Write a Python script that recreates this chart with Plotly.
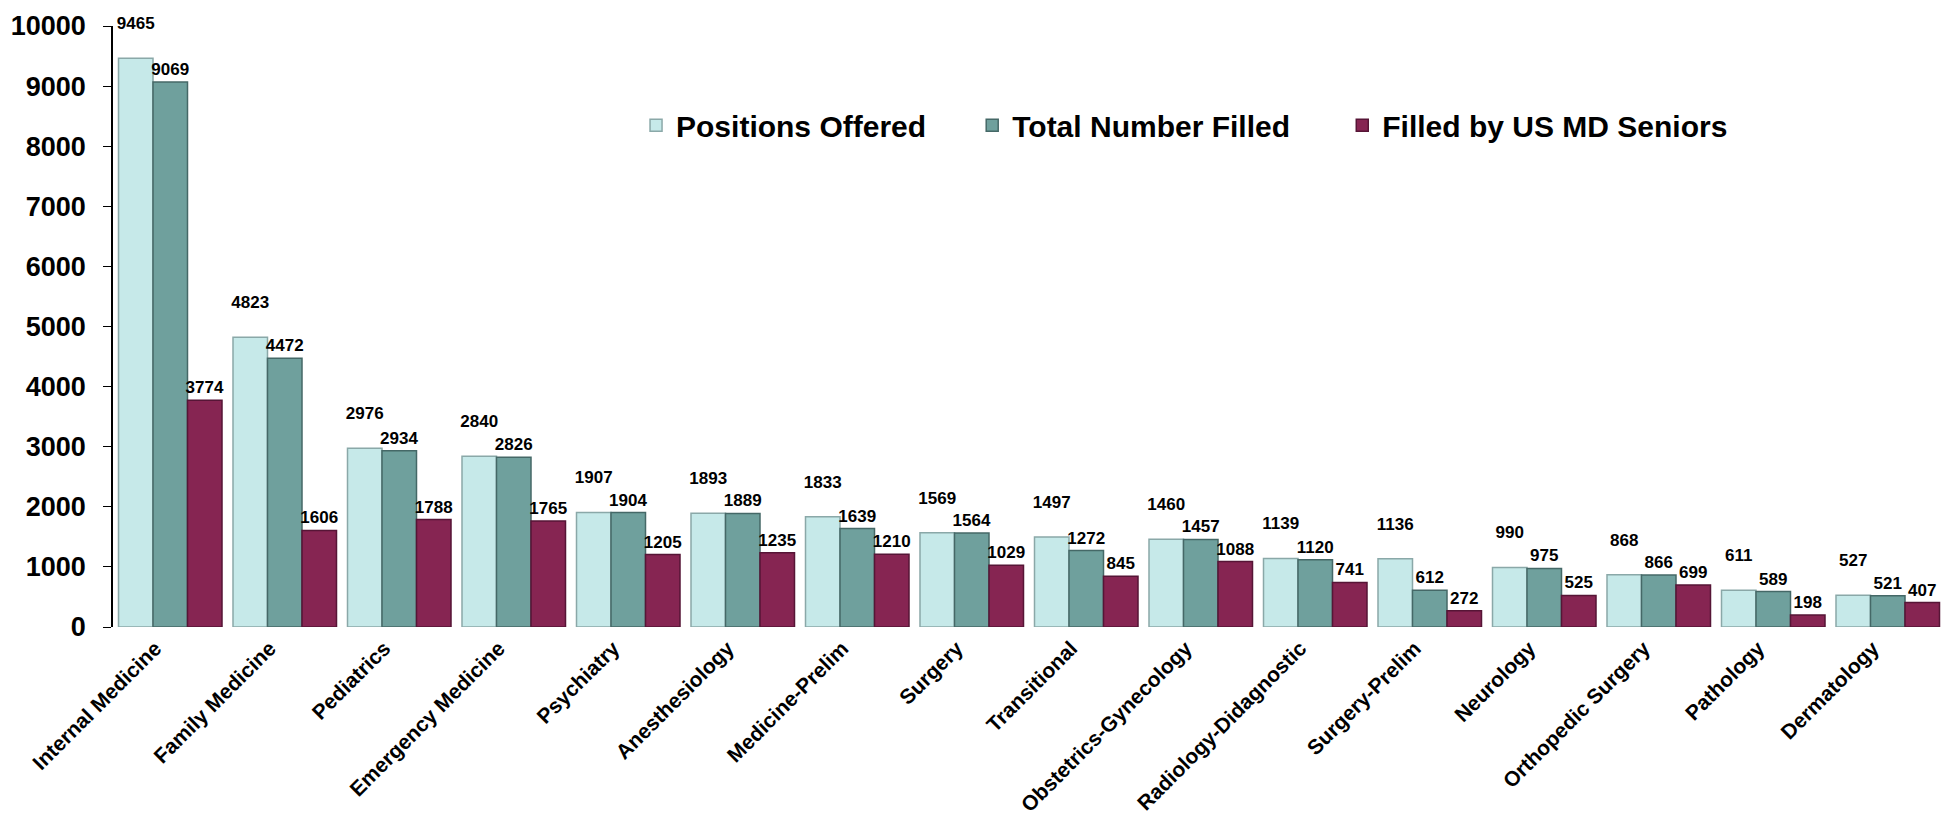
import plotly.graph_objects as go

categories = ["Internal Medicine", "Family Medicine", "Pediatrics", "Emergency Medicine",
              "Psychiatry", "Anesthesiology", "Medicine-Prelim", "Surgery", "Transitional",
              "Obstetrics-Gynecology", "Radiology-Didagnostic", "Surgery-Prelim", "Neurology",
              "Orthopedic Surgery", "Pathology", "Dermatology"]
positions_offered = [9465, 4823, 2976, 2840, 1907, 1893, 1833, 1569, 1497, 1460, 1139, 1136, 990, 868, 611, 527]
total_filled = [9069, 4472, 2934, 2826, 1904, 1889, 1639, 1564, 1272, 1457, 1120, 612, 975, 866, 589, 521]
us_md_seniors = [3774, 1606, 1788, 1765, 1205, 1235, 1210, 1029, 845, 1088, 741, 272, 525, 699, 198, 407]
y_ticks = [0, 1000, 2000, 3000, 4000, 5000, 6000, 7000, 8000, 9000, 10000]
y_tick_labels = [str(v) for v in y_ticks]

FONT = "Liberation Sans, Arial, sans-serif"

# (name, values, fill, outline, legend id, legend x, label raised)
series = [
    ("Positions Offered", positions_offered, "#c6e9e9", "#8aa8a8", "legend", 0.2855, True),
    ("Total Number Filled", total_filled, "#6fa09d", "#456867", "legend2", 0.469, False),
    ("Filled by US MD Seniors", us_md_seniors, "#862552", "#561536", "legend3", 0.671, False),
]

fig = go.Figure()
legend_layouts = {}
for name, vals, color, line, leg, lx, raised in series:
    labels = [f"{v}<br> " if raised else str(v) for v in vals]
    fig.add_trace(go.Bar(
        name=name, x=categories, y=vals, legend=leg,
        marker=dict(color=color, line=dict(color=line, width=1.5)),
        text=labels, textposition="outside",
        textfont=dict(family=FONT, size=17, color="black", weight="bold"),
        constraintext="none",
        cliponaxis=False,
    ))
    legend_layouts[leg] = dict(
        orientation="h", x=lx, y=0.835, xanchor="left", yanchor="middle",
        font=dict(family=FONT, size=30, weight="bold"),
        bgcolor="rgba(0,0,0,0)", itemwidth=30,
    )

fig.update_layout(
    width=1950, height=818,
    paper_bgcolor="white", plot_bgcolor="white",
    barmode="group", bargap=0.096, bargroupgap=0.0,
    margin=dict(l=105, r=13, t=18, b=199, autoexpand=False),
    font=dict(family=FONT, color="black"),
    showlegend=True,
    xaxis=dict(
        tickangle=-45, showline=False, ticks="", automargin=False,
        ticklabelstandoff=4, ticklabelshift=-15,
        tickfont=dict(family=FONT, size=21, weight="bold"),
    ),
    yaxis=dict(
        range=[0, 10000], tickvals=y_ticks, ticktext=y_tick_labels,
        showgrid=False, zeroline=False, automargin=False,
        showline=True, linecolor="black", linewidth=1.5, ticks="outside", ticklen=8,
        tickcolor="black", ticklabelstandoff=12,
        tickfont=dict(family=FONT, size=27, weight="bold"),
    ),
    **legend_layouts,
)

fig.write_html("out.html")
